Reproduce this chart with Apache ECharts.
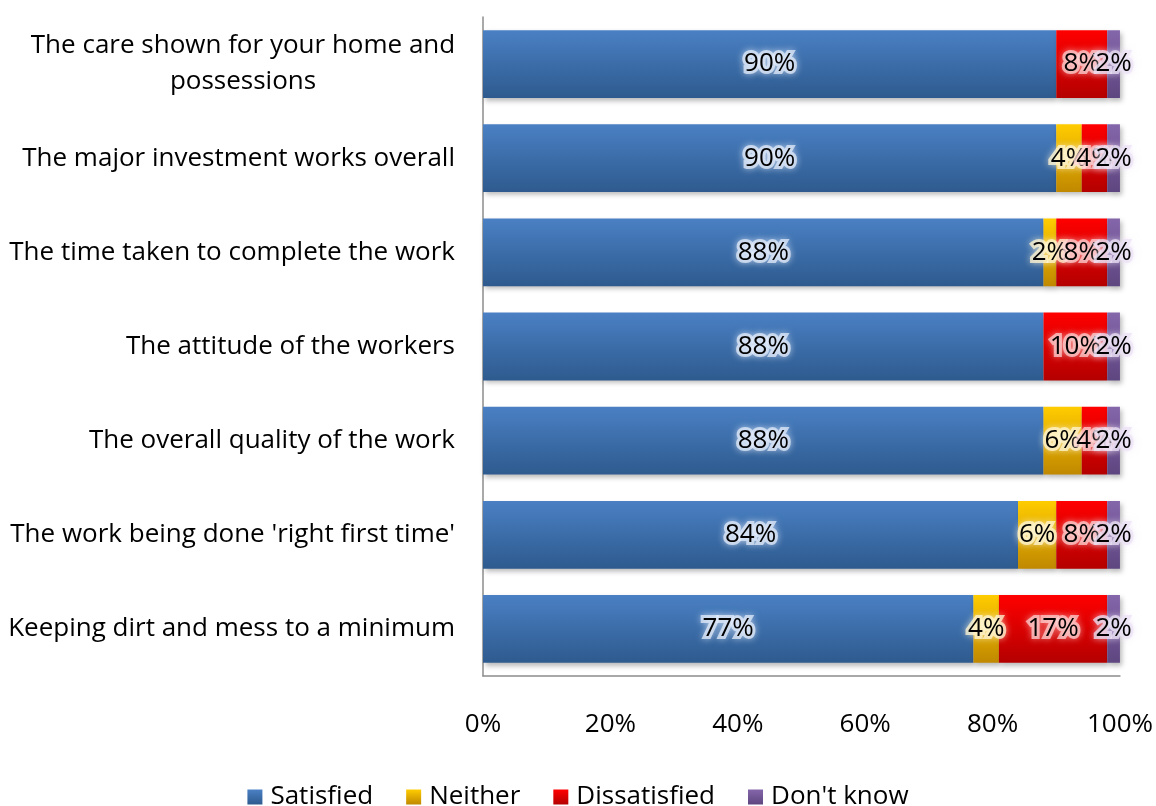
<!DOCTYPE html>
<html>
<head>
<meta charset="utf-8">
<script src="https://cdn.jsdelivr.net/npm/echarts@6/dist/echarts.min.js"></script>
<style>
  html, body { margin: 0; padding: 0; background: #fff; }
  #chart { width: 1156px; height: 806px; }
</style>
</head>
<body>
<div id="chart"></div>
<script>
// Survey aspects, listed from top to bottom
const categories = [
  "The care shown for your home and possessions",
  "The major investment works overall",
  "The time taken to complete the work",
  "The attitude of the workers",
  "The overall quality of the work",
  "The work being done 'right first time'",
  "Keeping dirt and mess to a minimum"
];
// Percentages per response, same order as categories
const satisfied    = [90, 90, 88, 88, 88, 84, 77];
const neither      = [0, 4, 2, 0, 6, 6, 4];
const dissatisfied = [8, 4, 8, 10, 4, 8, 17];
const dontKnow     = [2, 2, 2, 2, 2, 2, 2];
const xTicks = ["0%", "20%", "40%", "60%", "80%", "100%"];

const FONT = "'Open Sans', 'Noto Sans', sans-serif";

function grad(light, dark) {
  return new echarts.graphic.LinearGradient(0, 0, 0, 1, [
    { offset: 0, color: light },
    { offset: 1, color: dark }
  ]);
}

function makeSeries(name, values, light, dark, glow) {
  return {
    name: name,
    type: 'bar',
    stack: 'total',
    barCategoryGap: '28%',
    data: values.slice().reverse(),
    itemStyle: {
      color: grad(light, dark),
      shadowColor: 'rgba(0,0,0,0.28)',
      shadowBlur: 5,
      shadowOffsetX: 2,
      shadowOffsetY: 3
    },
    label: {
      show: true,
      position: 'inside',
      formatter: p => (p.value ? p.value + '%' : ''),
      color: '#000',
      fontFamily: FONT,
      fontSize: 26,
      textBorderColor: glow,
      textBorderWidth: 6,
      textShadowColor: glow,
      textShadowBlur: 7
    },
    emphasis: { disabled: true }
  };
}

const chart = echarts.init(document.getElementById('chart'));
chart.setOption({
  animation: false,
  backgroundColor: '#fff',
  grid: { left: 483, right: 36, top: 17, bottom: 130, containLabel: false },
  legend: {
    top: 779,
    left: 'center',
    icon: 'rect',
    itemWidth: 15,
    itemHeight: 15,
    itemGap: 33,
    textStyle: { fontFamily: FONT, fontSize: 26, color: '#000', padding: [0, 0, 0, 3] },
    data: ['Satisfied', 'Neither', 'Dissatisfied', "Don't know"]
  },
  xAxis: {
    type: 'value',
    min: 0,
    max: 100,
    interval: 20,
    splitLine: { show: false },
    axisLine: { show: true, lineStyle: { color: '#8c8c8c', width: 1.5 } },
    axisTick: { show: false },
    axisLabel: {
      margin: 36,
      color: '#000',
      fontFamily: FONT,
      fontSize: 26,
      formatter: v => xTicks[Math.round(v / 20)]
    }
  },
  yAxis: {
    type: 'category',
    data: categories.slice().reverse(),
    axisLine: { show: true, lineStyle: { color: '#8c8c8c', width: 1.5 } },
    axisTick: { show: false },
    axisLabel: {
      margin: 28,
      color: '#000',
      fontFamily: FONT,
      fontSize: 26,
      lineHeight: 36,
      formatter: v => {
        if (v === categories[0]) {
          return '{c|The care shown for your home and}\n{c|possessions}';
        }
        return v;
      },
      rich: {
        c: { width: 424, align: 'center', fontFamily: FONT, fontSize: 26, color: '#000', lineHeight: 36 }
      }
    }
  },
  series: [
    makeSeries('Satisfied', satisfied, '#4a80c4', '#2e5a8e', 'rgba(225,235,250,0.75)'),
    makeSeries('Neither', neither, '#ffcc00', '#c08800', 'rgba(255,245,210,0.75)'),
    makeSeries('Dissatisfied', dissatisfied, '#ff0000', '#b40000', 'rgba(255,215,215,0.7)'),
    makeSeries("Don't know", dontKnow, '#8466aa', '#5e4680', 'rgba(235,225,245,0.75)')
  ]
});
</script>
</body>
</html>
